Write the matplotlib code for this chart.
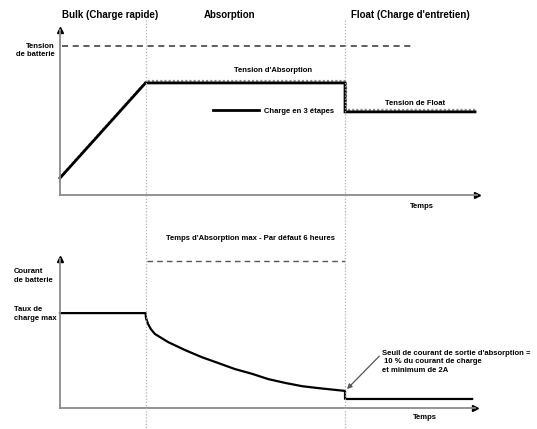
import matplotlib
matplotlib.use("Agg")
import matplotlib.pyplot as plt
import matplotlib.transforms as mtransforms
from matplotlib.lines import Line2D

plt.rcParams['font.family'] = ['Liberation Sans', 'DejaVu Sans']
plt.rcParams['font.weight'] = 'bold'

# phases
phase_names = ["Bulk (Charge rapide)", "Absorption", "Float (Charge d'entretien)"]
phase_label_t = [1.75, 5.96, 12.28]
phase_bounds = [3.0, 10.0]

# tension de batterie (V)
t_volt = [0, 3.0, 10.0, 10.0, 14.56]
v_volt = [12.1, 14.4, 14.4, 13.7, 13.7]
v_batt = 15.3
t_batt = [0.07, 12.46]

# courant de batterie (A)
t_cur = [0, 3.0, 3.02, 3.09, 3.19, 3.33, 3.79, 4.39, 4.98, 5.54, 6.14, 6.74, 7.30,
         7.89, 8.49, 9.05, 10.0, 10.0, 14.46]
i_cur = [20.0, 20.0, 18.9, 17.7, 16.6, 15.6, 13.9, 12.2, 10.7, 9.5, 8.2, 7.2, 6.1,
         5.3, 4.6, 4.2, 3.6, 1.9, 1.9]
t_abs_max = [3.05, 10.0]
i_abs_max = 30.9

W, H = 537, 429
fig = plt.figure(figsize=(W / 100, H / 100), dpi=100)

ax_v = fig.add_axes([60 / W, 1 - 195 / H, 417 / W, 165 / H])
ax_i = fig.add_axes([60 / W, 1 - 408 / H, 415 / W, 149 / H])
ax_v.set_xlim(0, 14.63)
ax_v.set_ylim(11.69, 15.68)
ax_i.set_xlim(0, 14.56)
ax_i.set_ylim(0, 31.4)

for ax in (ax_v, ax_i):
    for s in ("top", "right"):
        ax.spines[s].set_visible(False)
    for s in ("left", "bottom"):
        ax.spines[s].set_color("#8a8a8a")
        ax.spines[s].set_linewidth(1.3)
    ax.set_xticks([])
    ax.set_yticks([])
    ax.patch.set_alpha(0)
    ax.plot(1, 0, ">", color="black", ms=5, transform=ax.transAxes, clip_on=False)
    ax.plot(0, 1, "^", color="black", ms=4, transform=ax.transAxes, clip_on=False)

# lignes de phases
for t in phase_bounds:
    tr = mtransforms.blended_transform_factory(ax_v.transData, fig.transFigure)
    fig.add_artist(Line2D([t, t], [1 - 20 / H, 0], transform=tr,
                          color="#b0b0b0", lw=0.9, ls=(0, (1, 1.5))))

tr_head = mtransforms.blended_transform_factory(ax_v.transData, fig.transFigure)
for name, t in zip(phase_names, phase_label_t):
    fig.text(t, 1 - 15 / H, name, transform=tr_head, ha="center", va="center",
             fontsize=7, fontweight="bold")

# tension
ax_v.plot(t_batt, [v_batt, v_batt], color="#333333", lw=1.1, ls=(0, (4, 3)), clip_on=False)
shift = mtransforms.offset_copy(ax_v.transData, fig=fig, x=1, y=2, units="dots")
ax_v.plot(t_volt, v_volt, color="#8c8c8c", lw=1.5, ls=(0, (1, 1)), transform=shift, clip_on=False)
ax_v.plot(t_volt, v_volt, color="black", lw=2.0, label="Charge en 3 étapes", clip_on=False,
          solid_joinstyle="miter")
ax_v.legend(loc="center left", bbox_to_anchor=(213 / W, 1 - 111 / H),
            bbox_transform=fig.transFigure, frameon=False, borderpad=0,
            borderaxespad=0, handlelength=6.0, handletextpad=0.7,
            prop={"size": 5.5, "weight": "bold"})

fs = 5.5
ax_v.text(7.47, 14.69, "Tension d'Absorption", ha="center", va="center", fontsize=fs)
ax_v.text(12.46, 13.91, "Tension de Float", ha="center", va="center", fontsize=fs)
ax_v.text(-0.18, 15.19, "Tension\nde batterie", ha="right", va="center", fontsize=fs,
          linespacing=1.3)
ax_v.text(12.7, 11.40, "Temps", ha="center", va="center", fontsize=fs)

# courant
ax_i.plot(t_cur, i_cur, color="black", lw=1.6, clip_on=False, solid_joinstyle="round")
ax_i.plot(t_abs_max, [i_abs_max, i_abs_max], color="#555555", lw=1.0,
          ls=(0, (4, 3)), clip_on=False)
ax_i.text(6.67, 35.8, "Temps d'Absorption max - Par défaut 6 heures", ha="center",
          va="center", fontsize=fs)
ax_i.text(-1.61, 27.8, "Courant\nde batterie", ha="left", va="center", fontsize=fs,
          linespacing=1.3)
ax_i.text(-1.61, 19.8, "Taux de\ncharge max", ha="left", va="center", fontsize=fs,
          linespacing=1.3)
ax_i.text(12.8, -2.1, "Temps", ha="center", va="center", fontsize=fs)
ax_i.annotate("Seuil de courant de sortie d'absorption =\n 10 % du courant de charge\net minimum de 2A",
              xy=(10.07, 4.0), xytext=(11.3, 12.3), ha="left", va="top",
              fontsize=fs, linespacing=1.35, annotation_clip=False,
              arrowprops=dict(arrowstyle="-|>", color="#555555", lw=0.9,
                              mutation_scale=7, shrinkA=0, shrinkB=0,
                              relpos=(0, 0.85)))

fig.savefig("out.png", dpi=100)
